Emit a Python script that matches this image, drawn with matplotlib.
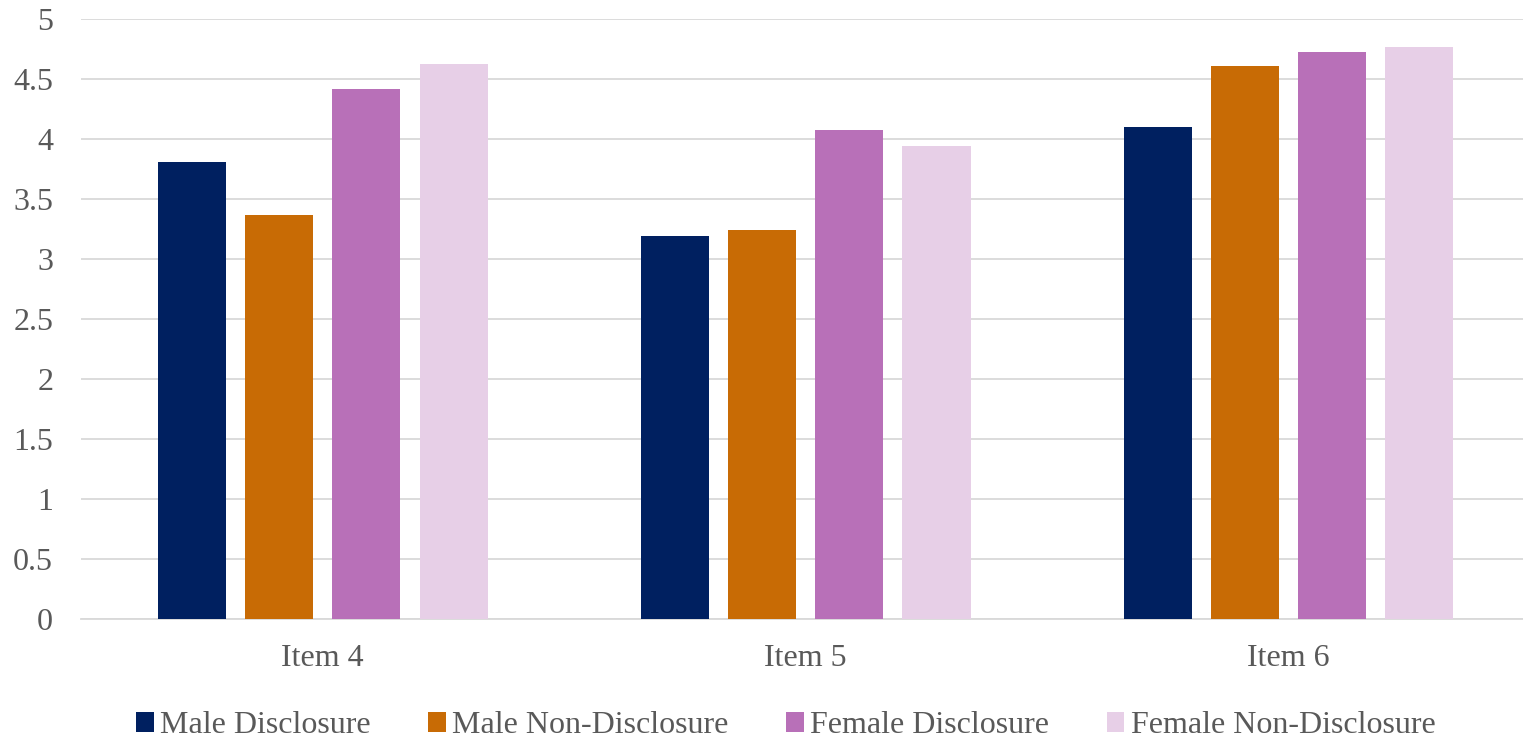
import matplotlib
matplotlib.use("Agg")
import matplotlib.pyplot as plt
import numpy as np

# data
categories = ["Item 4", "Item 5", "Item 6"]
series = ["Male Disclosure", "Male Non-Disclosure", "Female Disclosure", "Female Non-Disclosure"]
male_disc = [3.81, 3.19, 4.10]
male_nondisc = [3.37, 3.24, 4.61]
female_disc = [4.42, 4.08, 4.73]
female_nondisc = [4.63, 3.94, 4.77]
colors = ["#002060", "#C86B05", "#B870B8", "#E7CFE7"]

plt.rcParams["font.family"] = ["Liberation Serif", "DejaVu Serif"]
TXT = "#595959"
FS = 23

fig = plt.figure(figsize=(15.23, 7.39), dpi=100)
ax = fig.add_axes([0.0532, 0.1624, 0.9514, 0.8116])

x = np.arange(len(categories))
step = 0.1808
width = 0.1408
for i, (vals, lab, c) in enumerate(zip([male_disc, male_nondisc, female_disc, female_nondisc],
                                       series, colors)):
    ax.bar(x + (i - 1.5) * step, vals, width, color=c, label=lab, zorder=3)

ax.set_xlim(-0.5, 2.5)
ax.set_ylim(0, 5)
ax.set_yticks(np.arange(0, 5.01, 0.5))
ax.set_yticklabels(["0", "0.5", "1", "1.5", "2", "2.5", "3", "3.5", "4", "4.5", "5"])
ax.set_xticks(x)
ax.set_xticklabels(categories)
ax.yaxis.grid(True, color="#D9D9D9", lw=1.3, zorder=0)
ax.tick_params(axis="both", length=0, labelsize=FS, colors=TXT)
ax.tick_params(axis="x", pad=18)
ax.tick_params(axis="y", pad=20)
for s in ["top", "right", "left"]:
    ax.spines[s].set_visible(False)
ax.spines["bottom"].set_color("#D9D9D9")
ax.spines["bottom"].set_linewidth(1.3)

leg = fig.legend(loc="center", bbox_to_anchor=(0.516, 0.018), ncol=4, frameon=False,
                 fontsize=FS, handlelength=0.55, handleheight=0.55, handletextpad=0.2,
                 columnspacing=1.8)
for t in leg.get_texts():
    t.set_color(TXT)

fig.savefig("out.png", dpi=100, facecolor="white")
